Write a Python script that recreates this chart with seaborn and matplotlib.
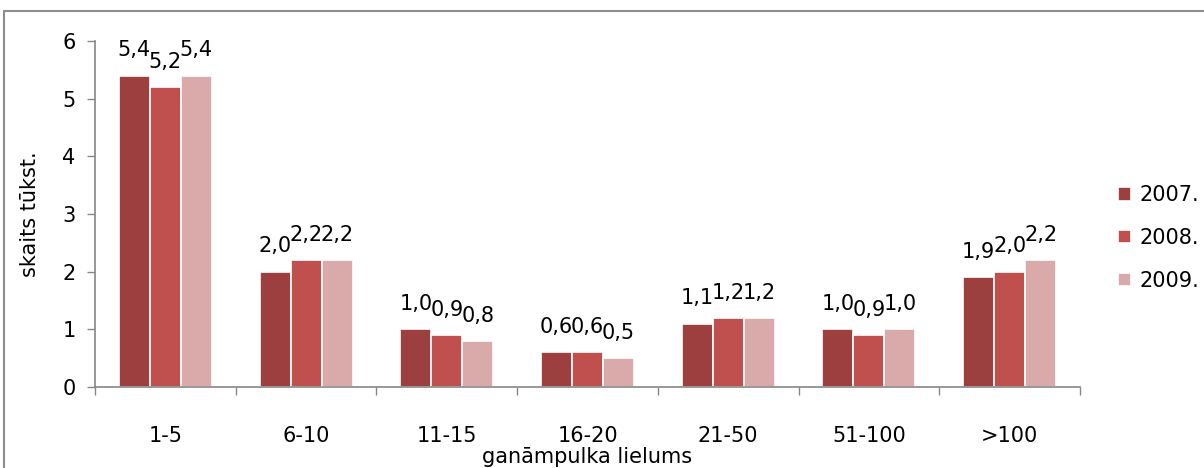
import numpy as np
import pandas as pd
import matplotlib
matplotlib.use("Agg")
import matplotlib.pyplot as plt
import seaborn as sns
from matplotlib.patches import Rectangle

# Data
categories = ["1-5", "6-10", "11-15", "16-20", "21-50", "51-100", ">100"]
years = ["2007.", "2008.", "2009."]
v2007 = [5.4, 2.0, 1.0, 0.6, 1.1, 1.0, 1.9]
v2008 = [5.2, 2.2, 0.9, 0.6, 1.2, 0.9, 2.0]
v2009 = [5.4, 2.2, 0.8, 0.5, 1.2, 1.0, 2.2]

df = pd.DataFrame({
    "group": categories * 3,
    "year": [years[0]] * 7 + [years[1]] * 7 + [years[2]] * 7,
    "value": v2007 + v2008 + v2009,
})

colors = ["#9E3F3F", "#C0504D", "#DAAAAA"]
fs = 15

sns.set_theme(style="white")
plt.rcParams["font.family"] = ["DejaVu Sans"]
plt.rcParams["text.color"] = "black"
plt.rcParams["axes.labelcolor"] = "black"

fig = plt.figure(figsize=(12.04, 4.68), dpi=100)
ax = fig.add_axes([95 / 1204, 1 - 387 / 468, (1080 - 95) / 1204, (387 - 41) / 468])

sns.barplot(data=df, x="group", y="value", hue="year", order=categories,
            hue_order=years, palette=colors, width=0.66, ax=ax,
            edgecolor="white", linewidth=1.2, saturation=1)

# value labels with decimal comma
for cont in ax.containers:
    ax.bar_label(cont, labels=[f"{b.get_height():.1f}".replace(".", ",") for b in cont],
                 padding=11, fontsize=fs, color="black")

ax.set_ylim(0, 6)
ax.set_xlim(-0.5, 6.5)
ax.set_yticks(range(0, 7))
ax.tick_params(axis="y", labelsize=fs, length=6, width=1, color="#868686",
               labelcolor="black", direction="out", left=True, pad=8)
ax.tick_params(axis="x", which="major", labelsize=fs, length=0, pad=28,
               labelcolor="black")
ax.set_xticks(np.arange(-0.5, 7, 1), minor=True)
ax.tick_params(axis="x", which="minor", length=6, width=1, color="#868686",
               direction="out", bottom=True)

for s in ["top", "right"]:
    ax.spines[s].set_visible(False)
for s in ["left", "bottom"]:
    ax.spines[s].set_color("#868686")
    ax.spines[s].set_linewidth(1.2)

ax.set_ylabel("skaits tūkst.", fontsize=fs, labelpad=16)
ax.set_xlabel("ganāmpulka lielums", fontsize=fs)
ax.xaxis.set_label_coords(0.5, -0.172)

leg = ax.legend(loc="center left", bbox_to_anchor=(1.02, 0.43), frameon=False,
                fontsize=fs, handlelength=0.6, handleheight=0.6,
                handletextpad=0.4, labelspacing=1.1)

# outer chart frame
fig.patches.append(Rectangle((4 / 1204, -0.05), 1.1, 1 - 11 / 468 + 0.05,
                             transform=fig.transFigure, fill=False,
                             edgecolor="#8C8C8C", linewidth=1.5))

fig.savefig("out.png", dpi=100)
